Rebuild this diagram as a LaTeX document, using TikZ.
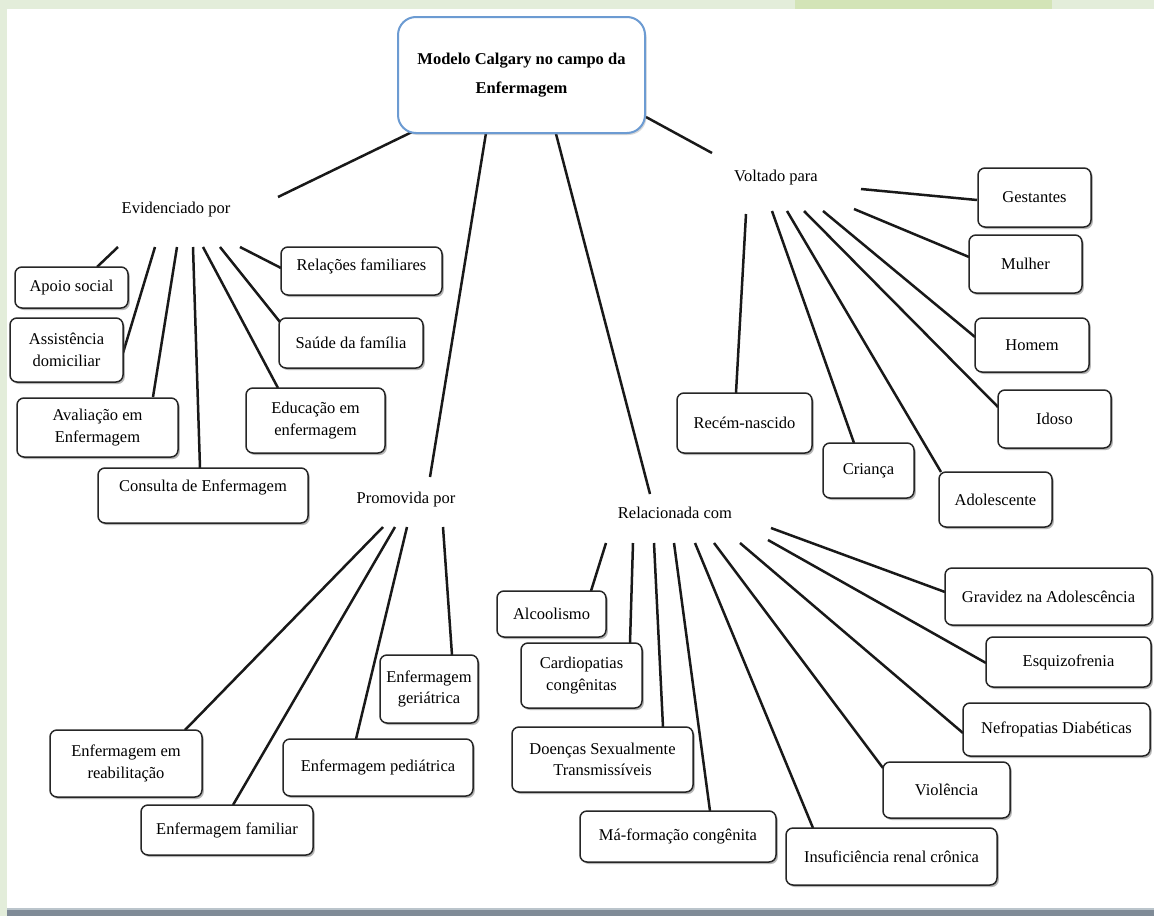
\documentclass[tikz,border=0pt]{standalone}
\usepackage{fontspec}
\setmainfont{Liberation Serif}
\usetikzlibrary{shadows,backgrounds}
\definecolor{framegreen}{HTML}{E3EDDA}
\definecolor{bandgreen}{HTML}{D3E4B7}
\definecolor{barGray}{HTML}{7F8B97}
\definecolor{barLight}{HTML}{BAC4CB}
\definecolor{hubBlue}{HTML}{6C9BD2}
\newcommand\diafont{\fontsize{16.5}{21.5}\selectfont}
\newcommand\diabold{\fontsize{16.5}{29}\selectfont\bfseries}
\tikzset{
  box/.style={draw=black!85, line width=1.5pt, rounded corners=7pt, fill=white,
    align=center, inner sep=0pt, font=\diafont,
    drop shadow={shadow xshift=1.8pt, shadow yshift=-2pt, opacity=0.4, fill=black!70}},
  bx/.style 2 args={box, minimum width=#1pt, minimum height=#2pt},
  cbox/.style={draw=hubBlue, line width=2pt, rounded corners=18pt, fill=white,
    align=center, inner sep=0pt, font=\diabold, minimum width=247pt, minimum height=116pt,
    drop shadow={shadow xshift=1.5pt, shadow yshift=-2pt, opacity=0.25, fill=black!60}},
  hub/.style={inner sep=0pt, font=\diafont},
  link/.style={line width=2.5pt, black!90},
}
\begin{document}
\begin{tikzpicture}[x=1pt,y=-1pt]
\useasboundingbox (0,0) rectangle (1154,916);
\begin{scope}[on background layer]
  \fill[framegreen] (0,0) rectangle (1154,916);
  \fill[bandgreen] (795,0) rectangle (1052,9);
  \fill[white] (7,9) rectangle (1154,908);
  \fill[barLight] (7,908) rectangle (1154,910);
  \fill[barGray] (7,910) rectangle (1154,916);
\end{scope}

% central
\node[cbox] (central) at (521.5,75) {Modelo Calgary no campo da\\Enfermagem};

% hubs
\node[hub] (evid) at (176,210) {Evidenciado por};
\node[hub] (volt) at (776,178) {Voltado para};
\node[hub] (promo) at (406,500) {Promovida por};
\node[hub] (relh) at (675,513) {Relacionada com};

% evidenciado group
\node[bx={113}{41}] (apoio) at (71.5,287.5) {Apoio social};
\node[bx={113}{64}] (assist) at (66.5,350) {Assistência\\domiciliar};
\node[bx={161}{59}] (aval) at (97.5,427.5) {Avaliação em\\Enfermagem};
\node[bx={210}{55}, text depth=19pt] (consulta) at (203,495.5) {Consulta de Enfermagem};
\node[bx={139}{65}] (educ) at (315.5,420.5) {Educação em\\enfermagem};
\node[bx={144}{50}] (saude) at (351,343) {Saúde da família};
\node[bx={161}{48}, text depth=12pt] (relfam) at (361.5,271) {Relações familiares};

% voltado group
\node[bx={113}{59}] (gest) at (1034.5,197.5) {Gestantes};
\node[bx={113}{58}] (mulher) at (1025.5,264) {Mulher};
\node[bx={114}{54}] (homem) at (1032,345) {Homem};
\node[bx={113}{58}] (idoso) at (1054.5,419) {Idoso};
\node[bx={113}{55}] (adol) at (995.5,499.5) {Adolescente};
\node[bx={91}{55}] (crianca) at (868.5,470.5) {Criança};
\node[bx={135}{60}] (recem) at (744.5,423) {Recém-nascido};

% promovida group
\node[bx={152}{67}] (reab) at (126,763.5) {Enfermagem em\\reabilitação};
\node[bx={172}{50}] (famil) at (227,830) {Enfermagem familiar};
\node[bx={190}{57}] (pedia) at (378,767.5) {Enfermagem pediátrica};
\node[bx={98}{68}] (geri) at (429,689) {Enfermagem\\geriátrica};

% relacionada group
\node[bx={109}{46}] (alcool) at (551.5,614) {Alcoolismo};
\node[bx={121}{65}] (cardio) at (581.5,675.5) {Cardiopatias\\congênitas};
\node[bx={181}{65}] (doencas) at (602.5,759.5) {Doenças Sexualmente\\Transmissíveis};
\node[bx={196}{51}] (maform) at (678,836.5) {Má-formação congênita};
\node[bx={211}{57}] (insuf) at (891.5,856.5) {Insuficiência renal crônica};
\node[bx={127}{56}] (viol) at (946.5,790) {Violência};
\node[bx={187}{53}] (nefro) at (1056.5,729.5) {Nefropatias Diabéticas};
\node[bx={165}{50}] (esquiz) at (1068.5,662) {Esquizofrenia};
\node[bx={207}{57}] (gravid) at (1048.5,596.5) {Gravidez na Adolescência};

\begin{scope}[on background layer]
  % from central
  \draw[link] ([shift={(-109.5,57)}]central.center) -- ([shift={(102,-13)}]evid.center);
  \draw[link] ([shift={(-35.5,58)}]central.center) -- ([shift={(24,-23)}]promo.center);
  \draw[link] ([shift={(33.5,55)}]central.center) -- ([shift={(-25,-19)}]relh.center);
  \draw[link] ([shift={(124.5,42)}]central.center) -- ([shift={(-64,-25)}]volt.center);
  % evidenciado
  \draw[link] ([shift={(-58,37)}]evid.center) -- ([shift={(25.5,-20.5)}]apoio.center);
  \draw[link] ([shift={(-21,37)}]evid.center) -- ([shift={(56.5,3)}]assist.center);
  \draw[link] ([shift={(1,37)}]evid.center) -- ([shift={(55.5,-30.5)}]aval.center);
  \draw[link] ([shift={(17,37)}]evid.center) -- ([shift={(-3,-27.5)}]consulta.center);
  \draw[link] ([shift={(27,37)}]evid.center) -- ([shift={(-37.5,-32.5)}]educ.center);
  \draw[link] ([shift={(44,37)}]evid.center) -- ([shift={(-71,-21)}]saude.center);
  \draw[link] ([shift={(64,37)}]evid.center) -- ([shift={(-80.5,-3)}]relfam.center);
  % voltado
  \draw[link] ([shift={(85,11)}]volt.center) -- ([shift={(-57.5,2.5)}]gest.center);
  \draw[link] ([shift={(78,31)}]volt.center) -- ([shift={(-56.5,-7)}]mulher.center);
  \draw[link] ([shift={(47,33)}]volt.center) -- ([shift={(-57,-8)}]homem.center);
  \draw[link] ([shift={(28,33)}]volt.center) -- ([shift={(-56.5,-12)}]idoso.center);
  \draw[link] ([shift={(11,33)}]volt.center) -- ([shift={(-54.5,-27.5)}]adol.center);
  \draw[link] ([shift={(-4,33)}]volt.center) -- ([shift={(-14.5,-27.5)}]crianca.center);
  \draw[link] ([shift={(-30,36)}]volt.center) -- ([shift={(-8.5,-30)}]recem.center);
  % promovida
  \draw[link] ([shift={(-23,27)}]promo.center) -- ([shift={(59,-33.5)}]reab.center);
  \draw[link] ([shift={(-11,27)}]promo.center) -- ([shift={(6,-25)}]famil.center);
  \draw[link] ([shift={(1,27)}]promo.center) -- ([shift={(-22,-28.5)}]pedia.center);
  \draw[link] ([shift={(37,27)}]promo.center) -- ([shift={(23,-34)}]geri.center);
  % relacionada
  \draw[link] ([shift={(-69,30)}]relh.center) -- ([shift={(39.5,-23)}]alcool.center);
  \draw[link] ([shift={(-42,30)}]relh.center) -- ([shift={(48.5,-32.5)}]cardio.center);
  \draw[link] ([shift={(-21,30)}]relh.center) -- ([shift={(60.5,-32.5)}]doencas.center);
  \draw[link] ([shift={(-1,30)}]relh.center) -- ([shift={(32,-25.5)}]maform.center);
  \draw[link] ([shift={(20,30)}]relh.center) -- ([shift={(-78.5,-28.5)}]insuf.center);
  \draw[link] ([shift={(39,30)}]relh.center) -- ([shift={(-63.5,-22)}]viol.center);
  \draw[link] ([shift={(65,30)}]relh.center) -- ([shift={(-93.5,3.5)}]nefro.center);
  \draw[link] ([shift={(93,27)}]relh.center) -- ([shift={(-82.5,1)}]esquiz.center);
  \draw[link] ([shift={(96,15)}]relh.center) -- ([shift={(-103.5,-4.5)}]gravid.center);
\end{scope}
\end{tikzpicture}
\end{document}
